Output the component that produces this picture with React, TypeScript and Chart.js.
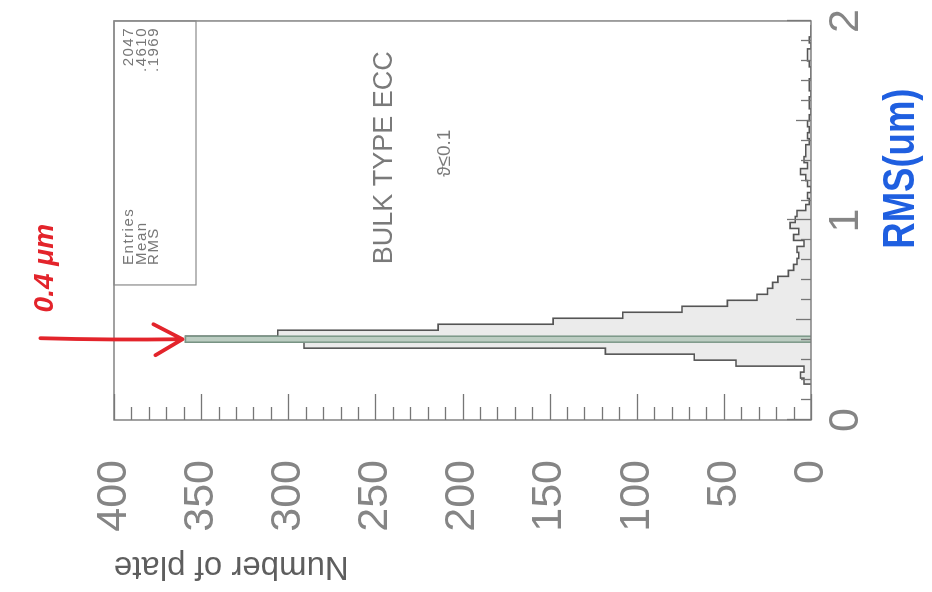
import React, { useEffect, useRef } from "react";
import { Chart, registerables } from "chart.js";

Chart.register(...registerables);

// ---- data ----
const BIN_WIDTH = 0.03; // µm
const FIRST_BIN_LOW = 0.18; // µm
const plateCounts = [
  4, 6, 4, 43, 67, 118, 291, 359, 306, 214, 148, 108, 74, 48, 31, 25,
  22, 19, 13, 10, 8, 7, 8, 4, 10, 7, 12, 9, 8,
  3, 1, 2, 0, 2, 3, 6, 2, 4, 3, 3, 1, 2, 1, 2, 1,
  0, 1, 1, 0, 1, 1, 0, 0, 1, 2, 2, 0, 1, 0, 0,
];
const rmsTicks = [0, 1, 2];
const plateTicksStep = 50;
const statLabels = ["Entries", "Mean", "RMS"];
const statValues = ["2047", ".4610", ".1969"];
const TITLE_TEXT = "BULK TYPE ECC";
const CUT_TEXT = "ϑ≤0.1";
const PEAK_NOTE = "0.4 μm";
const X_NOTE = "RMS(um)";
const Y_TITLE = "Number of plate";

const FAMILY = '"Liberation Sans", Arial, Helvetica, sans-serif';

const binLow = plateCounts.map((_, i) => +(FIRST_BIN_LOW + i * BIN_WIDTH).toFixed(3));
const lastHigh = +(FIRST_BIN_LOW + plateCounts.length * BIN_WIDTH).toFixed(3);

const outlinePoints = [
  { x: binLow[0], y: 0 },
  ...plateCounts.map((c, i) => ({ x: binLow[i], y: c })),
  { x: lastHigh, y: 0 },
];
const peakIndex = plateCounts.indexOf(Math.max(...plateCounts));
const peakPoints = [
  { x: binLow[peakIndex], y: 0 },
  { x: binLow[peakIndex], y: plateCounts[peakIndex] },
  { x: +(binLow[peakIndex] + BIN_WIDTH).toFixed(3), y: 0 },
];

const decorPlugin = {
  id: "decor",
  afterDraw(chart: any) {
    const { ctx, chartArea: a, scales } = chart;
    const xs = scales.x;
    const ys = scales.y;
    ctx.save();

    // inward ticks on the count axis
    ctx.strokeStyle = "#767676";
    ctx.lineWidth = 1.3;
    for (let i = 0; i <= 40; i++) {
      const py = Math.round(ys.getPixelForValue(i * 10)) + 0.5;
      const len = i % 5 === 0 ? 26 : 13;
      ctx.beginPath();
      ctx.moveTo(a.left, py);
      ctx.lineTo(a.left + len, py);
      ctx.stroke();
    }
    // inward ticks on the RMS axis
    for (let i = 0; i <= 20; i++) {
      const px = Math.round(xs.getPixelForValue(i / 10)) + 0.5;
      const len = i % 10 === 0 ? 24 : i % 5 === 0 ? 15 : 10;
      ctx.beginPath();
      ctx.moveTo(px, a.bottom);
      ctx.lineTo(px, a.bottom - len);
      ctx.stroke();
    }
    // frame
    ctx.strokeStyle = "#7a7a7a";
    ctx.lineWidth = 1.4;
    ctx.strokeRect(a.left, a.top, a.right - a.left, a.bottom - a.top);

    // statistics box
    const boxW = 264;
    const boxH = 82;
    const bx = a.right - boxW;
    ctx.strokeStyle = "#8a8a8a";
    ctx.lineWidth = 1.2;
    ctx.strokeRect(bx, a.top, boxW, boxH);
    ctx.fillStyle = "#777";
    ctx.font = `15px ${FAMILY}`;
    (ctx as any).letterSpacing = "1.5px";
    ctx.textBaseline = "middle";
    statLabels.forEach((lab, i) => {
      const ty = a.top + 15 + i * 12.5;
      ctx.textAlign = "left";
      ctx.fillText(lab, bx + 20, ty);
      ctx.textAlign = "right";
      ctx.fillText(statValues[i], a.right - 6, ty);
    });
    (ctx as any).letterSpacing = "0px";

    // plot title and cut
    ctx.fillStyle = "#7a7a7a";
    ctx.font = `27px ${FAMILY}`;
    ctx.textAlign = "left";
    ctx.fillText(TITLE_TEXT, xs.getPixelForValue(0.78), ys.getPixelForValue(245));
    ctx.font = `19px ${FAMILY}`;
    ctx.textAlign = "center";
    ctx.fillText(CUT_TEXT, xs.getPixelForValue(1.337), ys.getPixelForValue(210));

    // hand-written red arrow to the peak
    const peakCenter = binLow[peakIndex] + BIN_WIDTH / 2;
    const tipX = xs.getPixelForValue(peakCenter);
    const tipY = ys.getPixelForValue(plateCounts[peakIndex]) - 3;
    ctx.strokeStyle = "#e3242b";
    ctx.lineWidth = 3.8;
    ctx.lineCap = "round";
    ctx.lineJoin = "round";
    ctx.beginPath();
    ctx.moveTo(tipX + 1, tipY - 142);
    ctx.quadraticCurveTo(tipX - 1, tipY - 70, tipX, tipY);
    ctx.moveTo(tipX - 16, tipY - 27);
    ctx.lineTo(tipX, tipY);
    ctx.lineTo(tipX + 15, tipY - 29);
    ctx.stroke();
    ctx.fillStyle = "#e3242b";
    ctx.font = `italic bold 28px ${FAMILY}`;
    ctx.textAlign = "center";
    ctx.fillText(PEAK_NOTE, tipX + 71, tipY - 137);

    // hand-written blue axis note
    ctx.fillStyle = "#1f5fe0";
    ctx.font = `bold 44px ${FAMILY}`;
    ctx.translate(xs.getPixelForValue(1.26), a.bottom + 91);
    ctx.scale(0.83, 1);
    ctx.textAlign = "center";
    ctx.fillText(X_NOTE, 0, 0);

    ctx.restore();
  },
};

export default function App() {
  const ref = useRef<HTMLCanvasElement>(null);

  useEffect(() => {
    const canvas = ref.current;
    if (!canvas) return;
    const chart = new Chart(canvas, {
      type: "line",
      data: {
        datasets: [
          {
            label: "peak",
            data: peakPoints,
            stepped: true,
            borderColor: "#7b9787",
            borderWidth: 1.5,
            backgroundColor: "#bccdc2",
            fill: "origin",
            pointRadius: 0,
          },
          {
            label: "plates",
            data: outlinePoints,
            stepped: true,
            borderColor: "#555",
            borderWidth: 1.6,
            backgroundColor: "#ebebeb",
            fill: "origin",
            pointRadius: 0,
          },
        ],
      },
      options: {
        responsive: false,
        animation: false,
        devicePixelRatio: 1,
        layout: { padding: { left: 0, right: 19, top: 114, bottom: 0 } },
        plugins: {
          legend: { display: false },
          tooltip: { enabled: false },
        },
        scales: {
          x: {
            type: "linear",
            min: 0,
            max: 2,
            afterBuildTicks: (s: any) => {
              s.ticks = rmsTicks.map((v) => ({ value: v }));
            },
            afterFit: (s: any) => {
              s.height = 121;
            },
            grid: { display: false, drawTicks: false },
            border: { display: false },
            ticks: {
              padding: 9,
              color: "#858585",
              font: { family: FAMILY, size: 43 },
              maxRotation: 0,
            },
          },
          y: {
            type: "linear",
            min: 0,
            max: 400,
            afterFit: (s: any) => {
              s.width = 172;
            },
            grid: { display: false, drawTicks: false },
            border: { display: false },
            ticks: {
              stepSize: plateTicksStep,
              padding: 40,
              color: "#858585",
              font: { family: FAMILY, size: 43 },
            },
            title: {
              display: true,
              text: Y_TITLE,
              align: "end",
              color: "#5e5e5e",
              font: { family: FAMILY, size: 33 },
              padding: { top: 6, bottom: 0 },
            },
          },
        },
      },
      plugins: [decorPlugin],
    });
    return () => chart.destroy();
  }, []);

  return (
    <div
      style={{
        position: "fixed",
        left: 170,
        top: -170,
        width: 592,
        height: 932,
        transform: "rotate(-90deg)",
        background: "#ffffff",
      }}
    >
      <canvas ref={ref} width={592} height={932} style={{ display: "block", width: 592, height: 932 }} />
    </div>
  );
}
